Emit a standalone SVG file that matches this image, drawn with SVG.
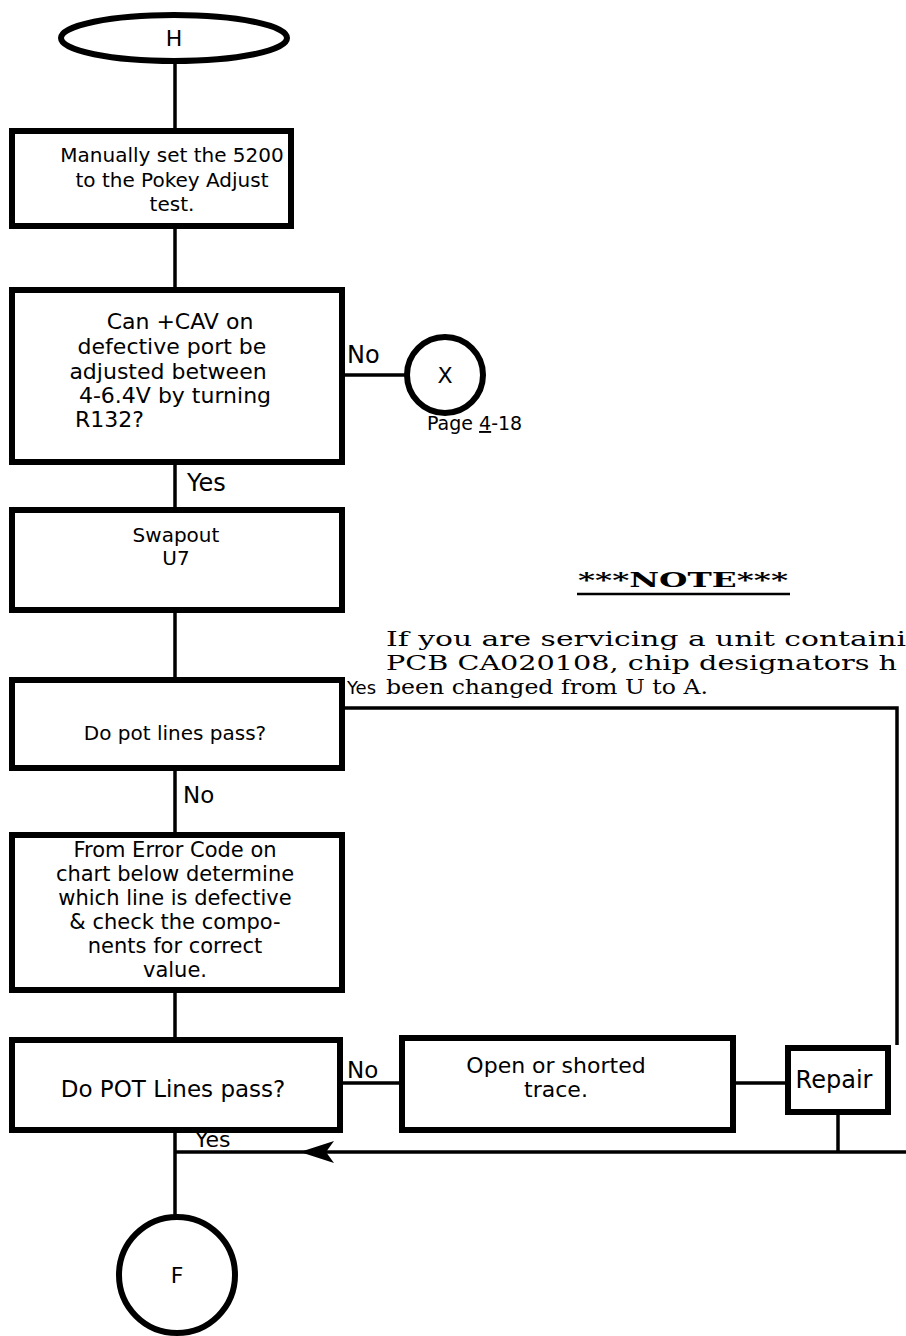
<svg xmlns="http://www.w3.org/2000/svg" width="906" height="1336" viewBox="0 0 906 1336">
<style>
.box{fill:#fff;stroke:#000;stroke-width:6}
.term{fill:#fff;stroke:#000;stroke-width:6}
.c{fill:none;stroke:#000;stroke-width:3.5}
.t{font-family:"DejaVu Sans",sans-serif;font-size:20px;fill:#000;text-anchor:middle}
.l{font-family:"DejaVu Sans",sans-serif;font-size:20px;fill:#000}
.n{font-family:"DejaVu Serif",serif;font-size:21px;fill:#000}
.big{font-size:22px}
</style>
<g id="connectors">
<line class="c" x1="175" y1="62" x2="175" y2="131"/>
<line class="c" x1="175" y1="226" x2="175" y2="290"/>
<line class="c" x1="342" y1="375" x2="407" y2="375"/>
<line class="c" x1="175" y1="462" x2="175" y2="510"/>
<line class="c" x1="175" y1="610" x2="175" y2="680"/>
<polyline class="c" points="342,708 897,708 897,1045"/>
<line class="c" x1="175" y1="768" x2="175" y2="835"/>
<line class="c" x1="175" y1="990" x2="175" y2="1040"/>
<line class="c" x1="340" y1="1083" x2="402" y2="1083"/>
<line class="c" x1="733" y1="1083" x2="788" y2="1083"/>
<line class="c" x1="838" y1="1112" x2="838" y2="1152"/>
<line class="c" x1="175" y1="1130" x2="175" y2="1216"/>
<line class="c" x1="906" y1="1152" x2="175" y2="1152"/>
<path d="M300,1152 L334,1141 L326,1152 L334,1163 Z" fill="#000"/>
</g>
<g id="H">
<ellipse class="term" cx="174" cy="38" rx="113" ry="23"/>
<text class="t big" x="174" y="46">H</text>
</g>
<g id="manual">
<rect class="box" x="12" y="131" width="279" height="95"/>
<text class="t" x="172" y="162">Manually set the 5200</text>
<text class="t" x="172" y="187">to the Pokey Adjust</text>
<text class="t" x="172" y="211">test.</text>
</g>
<g id="cav">
<rect class="box" x="12" y="290" width="330" height="172"/>
<text class="t big" x="180" y="329">Can +CAV on</text>
<text class="t big" x="172" y="354">defective port be</text>
<text class="t big" x="168" y="379">adjusted between</text>
<text class="t big" x="175" y="403">4-6.4V by turning</text>
<text class="l big" x="75" y="427">R132?</text>
</g>
<g id="X">
<circle class="term" cx="445" cy="375" r="38"/>
<text class="t big" x="445" y="383">X</text>
</g>
<g id="swap">
<rect class="box" x="12" y="510" width="330" height="100"/>
<text class="t" x="176" y="542">Swapout</text>
<text class="t" x="176" y="565">U7</text>
</g>
<g id="pot1">
<rect class="box" x="12" y="680" width="330" height="88"/>
<text class="t" x="175" y="740">Do pot lines pass?</text>
</g>
<g id="error">
<rect class="box" x="12" y="835" width="330" height="155"/>
<text class="t" x="175" y="857" style="font-size:21px">From Error Code on</text>
<text class="t" x="175" y="881" style="font-size:21px">chart below determine</text>
<text class="t" x="175" y="905" style="font-size:21px">which line is defective</text>
<text class="t" x="175" y="929" style="font-size:21px">&amp; check the compo-</text>
<text class="t" x="175" y="953" style="font-size:21px">nents for correct</text>
<text class="t" x="175" y="977" style="font-size:21px">value.</text>
</g>
<g id="pot2">
<rect class="box" x="12" y="1040" width="328" height="90"/>
<text class="t" x="173" y="1097" style="font-size:23px">Do POT Lines pass?</text>
</g>
<g id="open">
<rect class="box" x="402" y="1038" width="331" height="92"/>
<text class="t big" x="556" y="1073">Open or shorted</text>
<text class="t big" x="556" y="1097">trace.</text>
</g>
<g id="repair">
<rect class="box" x="788" y="1048" width="100" height="64"/>
<text class="t" x="834" y="1088" style="font-size:24px">Repair</text>
</g>
<g id="F">
<circle class="term" cx="177" cy="1275" r="58"/>
<text class="t big" x="177" y="1283">F</text>
</g>
<g id="labels">
<text class="l" x="347" y="363" style="font-size:24px">No</text>
<text class="l" x="187" y="491" style="font-size:24px">Yes</text>
<text class="l" x="347" y="694" style="font-size:18px">Yes</text>
<text class="l" x="183" y="803" style="font-size:23px">No</text>
<text class="l" x="347" y="1078" style="font-size:23px">No</text>
<text class="l big" x="195" y="1147">Yes</text>
<text class="l" x="427" y="430" style="font-size:19px">Page <tspan text-decoration="underline">4</tspan>-18</text>
</g>
<g id="note">
<text x="683" y="587" font-family="DejaVu Serif, serif" font-size="20" font-weight="bold" text-anchor="middle" textLength="210" lengthAdjust="spacingAndGlyphs">***NOTE***</text>
<line x1="577" y1="594" x2="790" y2="594" stroke="#000" stroke-width="2.5"/>
<text class="n" x="386" y="646" textLength="520" lengthAdjust="spacingAndGlyphs">If you are servicing a unit containi</text>
<text class="n" x="386" y="670" textLength="511" lengthAdjust="spacingAndGlyphs">PCB CA020108, chip designators h</text>
<text class="n" x="386" y="694" textLength="322" lengthAdjust="spacingAndGlyphs">been changed from U to A.</text>
</g>
</svg>
